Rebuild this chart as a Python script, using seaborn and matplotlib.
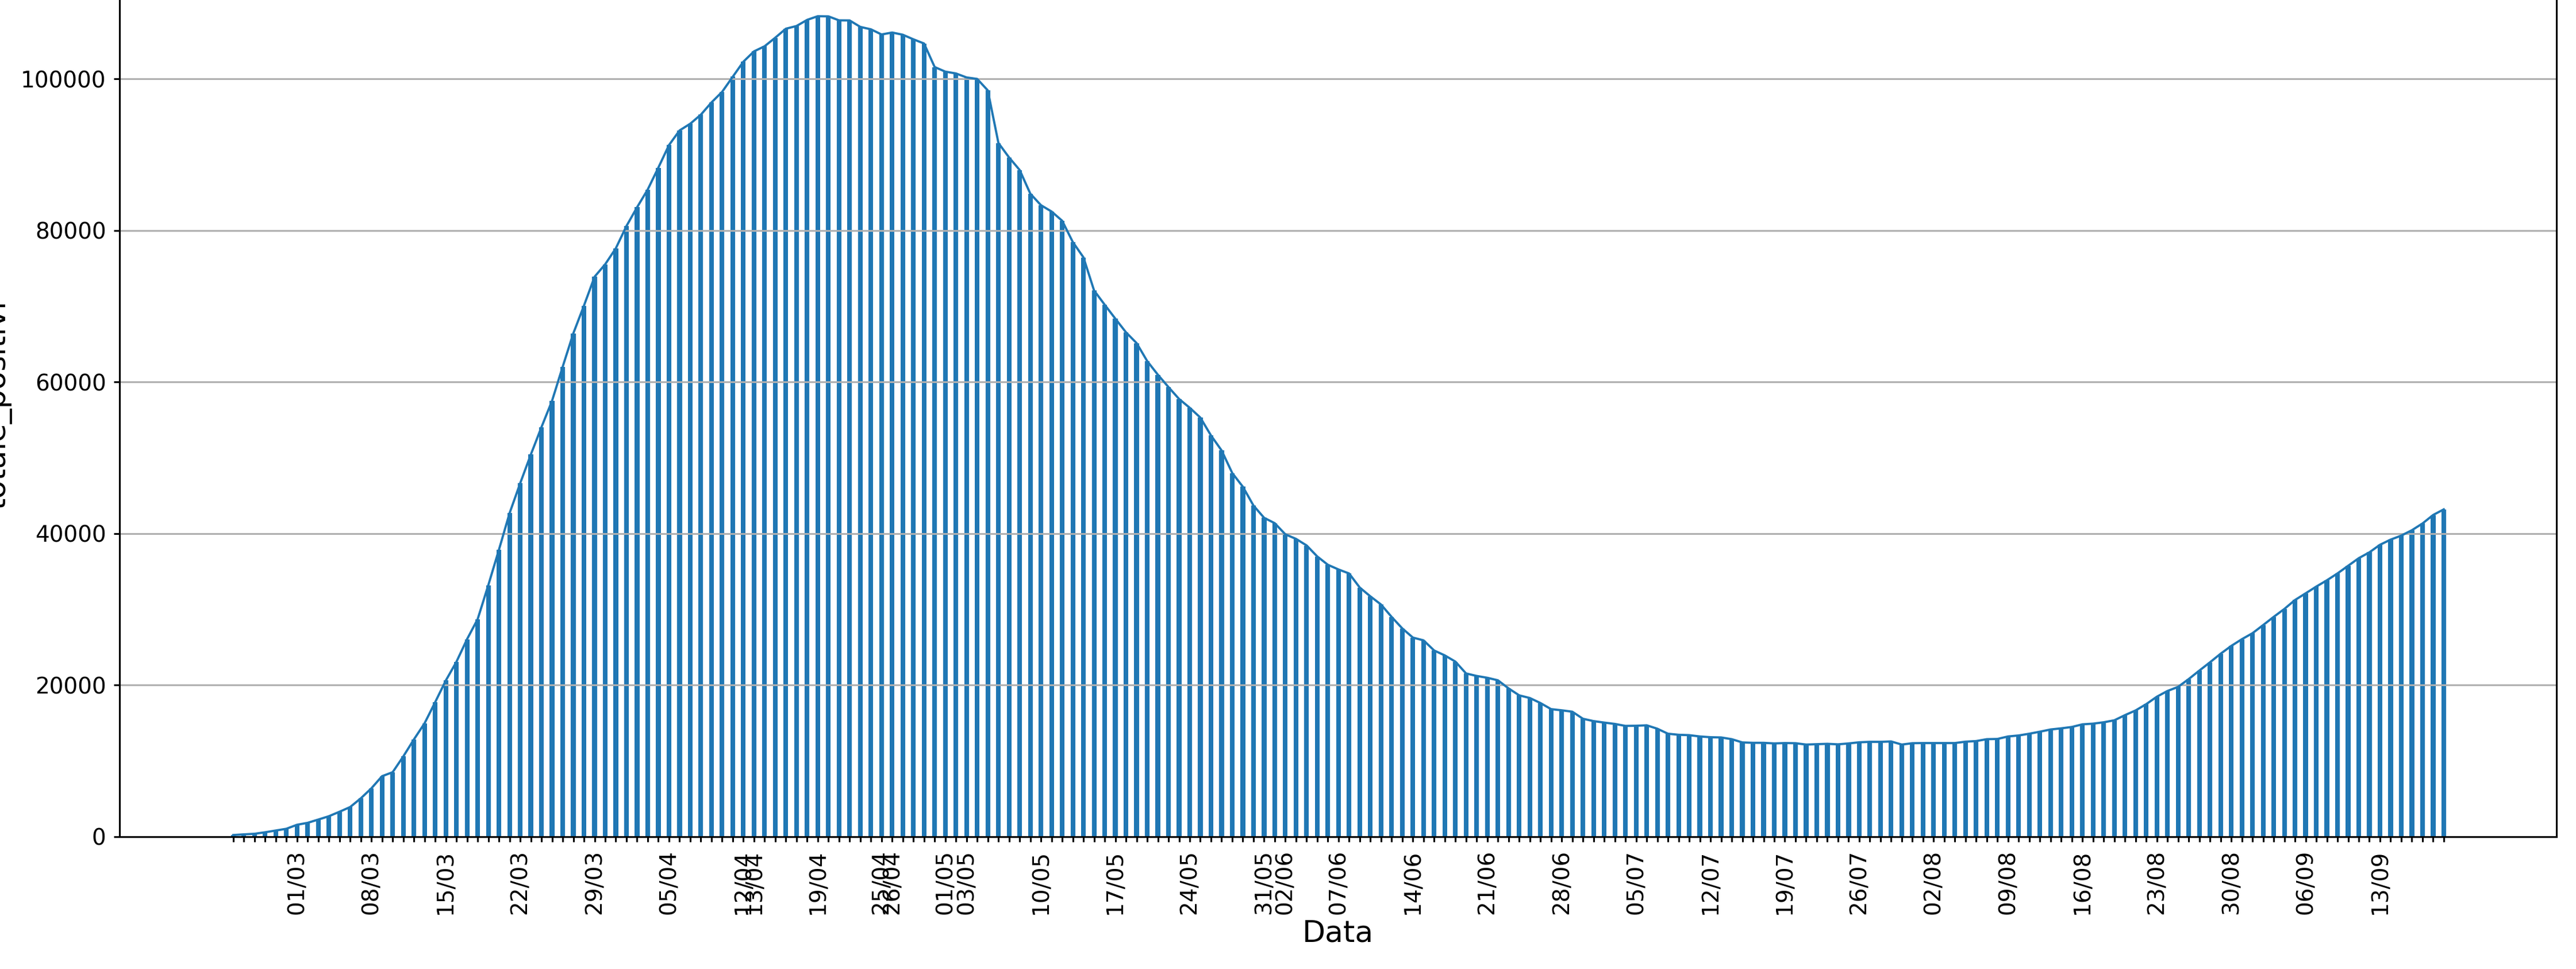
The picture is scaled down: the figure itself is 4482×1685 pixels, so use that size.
import numpy as np
import pandas as pd
import matplotlib
matplotlib.use("Agg")
import matplotlib.pyplot as plt
import seaborn as sns

# totale_positivi Italia, un valore al giorno dal 24/02/2020 al 19/09/2020
febbraio = [221, 311, 385, 588, 821, 1049]
marzo = [1577, 1835, 2263, 2706, 3296, 3916, 5061, 6387, 7985, 8514, 10590,
         12839, 14955, 17750, 20603, 23073, 26062, 28710, 33190, 37860, 42681,
         46638, 50418, 54030, 57521, 62013, 66414, 70065, 73880, 75528, 77635]
aprile = [80572, 83049, 85388, 88274, 91246, 93187, 94067, 95262, 96877, 98273,
          100269, 102253, 103616, 104291, 105418, 106607, 106962, 107771, 108257,
          108237, 107709, 107699, 106848, 106527, 105847, 106103, 105813, 105205,
          104657, 101551]
maggio = [100943, 100704, 100179, 99980, 98467, 91528, 89624, 87961, 84842, 83324,
          82488, 81266, 78457, 76440, 72070, 70187, 68351, 66553, 65129, 62752,
          60960, 59322, 57752, 56594, 55300, 52942, 50966, 47986, 46175, 43691, 42075]
giugno = [41367, 39893, 39297, 38429, 36976, 35877, 35262, 34730, 32872, 31710,
          30637, 28997, 27485, 26274, 25909, 24569, 23925, 23101, 21543, 21212,
          20972, 20637, 19573, 18655, 18303, 17638, 16836, 16681, 16496, 15563]
luglio = [15255, 15060, 14884, 14621, 14642, 14700, 14250, 13590, 13450, 13400,
          13230, 13130, 13100, 12870, 12440, 12390, 12390, 12310, 12360, 12340,
          12160, 12210, 12260, 12190, 12310, 12460, 12520, 12520, 12570, 12160, 12340]
agosto = [12360, 12360, 12360, 12360, 12540, 12620, 12870, 12900, 13230, 13360,
          13590, 13860, 14150, 14300, 14480, 14830, 14920, 15100, 15360, 16040,
          16660, 17490, 18470, 19230, 19770, 20800, 21920, 23010, 24140, 25170, 26060]
settembre = [26850, 27920, 29010, 30050, 31230, 32110, 33000, 33830, 34740, 35750,
             36750, 37520, 38520, 39200, 39730, 40440, 41330, 42450, 43190]

# domeniche + festivi mostrati sull'asse x
etichette = ["01/03", "08/03", "15/03", "22/03", "29/03", "05/04", "12/04", "13/04",
             "19/04", "25/04", "26/04", "01/05", "03/05", "10/05", "17/05", "24/05",
             "31/05", "02/06", "07/06", "14/06", "21/06", "28/06", "05/07", "12/07",
             "19/07", "26/07", "02/08", "09/08", "16/08", "23/08", "30/08", "06/09",
             "13/09"]

valori = febbraio + marzo + aprile + maggio + giugno + luglio + agosto + settembre
giorni = pd.date_range("2020-02-24", periods=len(valori), freq="D").strftime("%d/%m")
df = pd.DataFrame({"data": giorni, "totale_positivi": valori})

blu = "#1f77b4"
dpi = 280
fig = plt.figure(figsize=(4482 / dpi, 1685 / dpi), dpi=dpi)
ax = fig.add_axes([0.0464, 0.1365, 0.946, 0.8917])

sns.barplot(data=df, x="data", y="totale_positivi", color=blu, saturation=1,
            width=0.44, ax=ax)
sns.lineplot(x=np.arange(len(df)), y=df["totale_positivi"].values, color=blu,
             linewidth=1.0, ax=ax)

ax.set_xticks(np.arange(len(df)))
ax.set_xticklabels([g if g in etichette else "" for g in df["data"]], rotation=90,
                   fontsize=10)
ax.tick_params(axis="x", length=2.4, width=0.8)
ax.tick_params(axis="y", length=2.5, labelsize=10)

ax.set_xlim(-10.7, 218.6)
ax.set_ylim(0, 114000)
ax.set_yticks([0, 20000, 40000, 60000, 80000, 100000])
ax.yaxis.grid(True, color="#b0b0b0", linewidth=0.8)
ax.xaxis.grid(False)

ax.set_xlabel("Data", fontsize=13.4, labelpad=2)
ax.set_ylabel("totale_positivi", fontsize=13.4)

fig.savefig("out.png", dpi=dpi)
